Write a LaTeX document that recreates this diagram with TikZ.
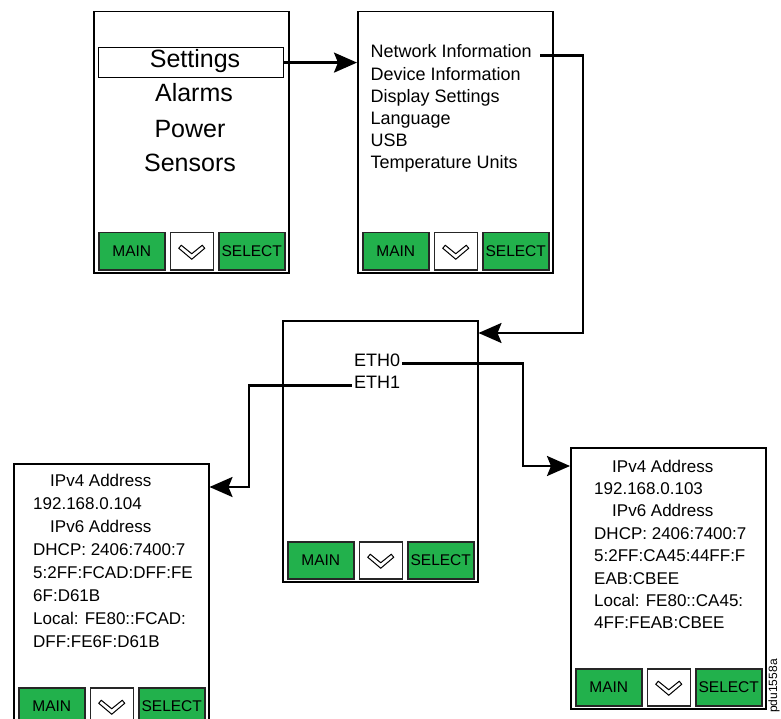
\documentclass[tikz,border=0pt]{standalone}
\usepackage{fontspec}
\setmainfont{Liberation Sans}
\usetikzlibrary{arrows.meta,positioning}
\definecolor{btngreen}{RGB}{34,177,76}

\tikzset{
  screen/.style={draw, line width=1.5pt, minimum width=195pt, anchor=north west, inner sep=0pt},
  btn/.style={draw=black!85, line width=1.5pt, fill=btngreen, minimum height=37pt, inner sep=0pt, font=\fontsize{15.5}{15.5}\selectfont},
  big/.style={font=\fontsize{25}{25}\selectfont, anchor=base},
  menu/.style={font=\fontsize{18}{18}\selectfont, anchor=base west},
  addr/.style={font=\fontsize{17}{17}\selectfont, anchor=base west, inner sep=0pt},
  eth/.style={font=\fontsize{18}{18}\selectfont, anchor=base west, inner sep=2pt},
  conn/.style={line width=2.4pt, -{Stealth[length=23pt,width=20pt,inset=4pt]}},
  chevron/.pic={\draw[line width=1pt] (-13pt,3pt) -- (0pt,-8pt) -- (13pt,3pt) -- (10.5pt,6pt) -- (0pt,-2.5pt) -- (-10.5pt,6pt) -- cycle;}
}

% one display with its three keys
\newcommand{\lcdscreen}[3][261]{%
  \node[screen, minimum height=#1pt] (#2) at (#3) {};
  \node[btn, minimum width=66pt, anchor=south west] (#2main) at ([shift={(5pt,3pt)}]#2.south west) {MAIN};
  \node[btn, fill=white, minimum width=43pt, right=4pt of #2main] (#2down) {};
  \node[btn, minimum width=66pt, right=4pt of #2down] (#2sel) {SELECT};
  \pic at (#2down) {chevron};
}

\begin{document}
\begin{tikzpicture}[x=1pt, y=-1pt]
  \useasboundingbox (0,0) rectangle (781,719);

  \lcdscreen{home}{93,11}
  \lcdscreen{settings}{357,11}
  \lcdscreen{network}{282,320}
  \lcdscreen[264]{ethone}{13,463}
  \lcdscreen{ethzero}{570,447}

  % main menu
  \node[draw, line width=1.2pt, minimum width=185pt, minimum height=30pt, anchor=north west, inner sep=0pt] (selbox) at (98,47) {};
  \node[big] (settext) at (195,68) {Settings};
  \node[big] (alarms) at (194,102) {Alarms};
  \node[big] (power) at (190,138) {Power};
  \node[big] (sensors) at (190,172) {Sensors};

  % settings menu
  \foreach \txt [count=\i] in {Network Information, Device Information, Display Settings, Language, USB, Temperature Units}
    \node[menu] (item\i) at (367,{58+22.1*(\i-1)}) {\txt};

  % network menu
  \node[eth] (eth0) at (352,366) {ETH0};
  \node[eth] (eth1) at (352,388) {ETH1};

  % ETH1 details
  \foreach \dx/\txt [count=\i from 0] in {17/IPv4 Address, 0/192.168.0.104, 17/IPv6 Address, 0/DHCP: 2406:7400:7, 0/5:2FF:FCAD:DFF:FE, 0/6F:D61B, 0/Local: FE80::FCAD:, 0/DFF:FE6F:D61B}
    \node[addr] (one\i) at ({33+\dx},{486+23*\i}) {\txt};

  % ETH0 details
  \foreach \dx/\txt [count=\i from 0] in {18/IPv4 Address, 0/192.168.0.103, 18/IPv6 Address, 0/DHCP: 2406:7400:7, 0/5:2FF:CA45:44FF:F, 0/EAB:CBEE, 0/Local: FE80::CA45:, 0/4FF:FEAB:CBEE}
    \node[addr] (zero\i) at ({594+\dx},{472+22.4*\i}) {\txt};

  \node[font=\fontsize{12}{12}\selectfont, rotate=90, anchor=base, inner sep=0pt] (figid) at (777,686) {pdu1558a};

  % connectors
  \coordinate (bendA) at (583,333);
  \coordinate (bendB) at (523,466);
  \coordinate (bendC) at (249,487);
  \draw[conn] (selbox.east) -- (selbox.east -| settings.west);
  \draw[conn] ([xshift=5pt]item1.mid east) -| (bendA) -- (bendA -| network.east);
  \draw[conn] (eth0.mid east) -| (bendB) -- (bendB -| ethzero.west);
  \draw[conn] (eth1.mid west) -| (bendC) -- (bendC -| ethone.east);
\end{tikzpicture}
\end{document}
